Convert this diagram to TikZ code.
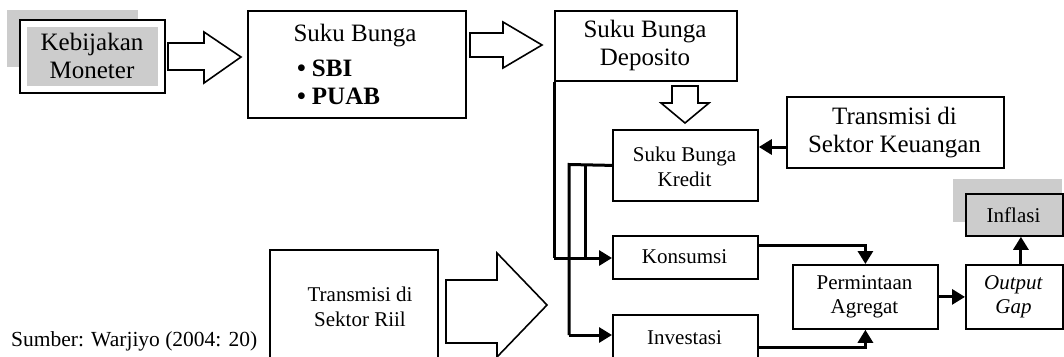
\documentclass[tikz,border=0pt]{standalone}
\usepackage{fontspec}
\setmainfont{Liberation Serif}
\usetikzlibrary{arrows.meta}
\definecolor{shadecol}{RGB}{204,204,204}
\begin{document}
\begin{tikzpicture}[x=1pt,y=-1pt,
  box/.style={draw, line width=1.8pt, inner sep=0pt, anchor=north west, align=center},
  big/.style={font=\fontsize{25}{28}\selectfont, align=center, inner sep=0pt},
  small/.style={font=\fontsize{21}{24.5}\selectfont, align=center, inner sep=0pt},
  conn/.style={line width=3pt, -{Triangle[length=13pt,width=15pt]}},
  wire/.style={line width=3pt},
  hollow/.style={draw, line width=1.6pt, fill=white, line join=miter}]
\useasboundingbox (0,0) rectangle (1064,356);
\clip (0,0) rectangle (1064,356);

% Kebijakan Moneter
\fill[shadecol] (7,10) rectangle (138,67);
\node[box, fill=white, minimum width=145pt, minimum height=73pt] (keb) at (19,19) {};
\fill[shadecol] (27,27) rectangle (158,86);
\node[big] (kebt) at (92,56) {Kebijakan\\Moneter};

% hollow arrow 1
\draw[hollow] (168,43) -- (204,43) -- (204,32) -- (241,57) -- (204,83) -- (204,70) -- (168,70) -- cycle;

% Suku Bunga box
\node[box, minimum width=218pt, minimum height=107pt] (sb) at (247,10) {};
\node[big] (sbt) at (355,36) {Suku Bunga};
\node[big, anchor=west] (sbi) at (297,68) {\textbf{\textbullet}\hspace{6pt}\textbf{SBI}};
\node[big, anchor=west] (puab) at (297,96) {\textbf{\textbullet}\hspace{6pt}\textbf{PUAB}};

% hollow arrow 2
\draw[hollow] (470,33) -- (503,33) -- (503,22) -- (542,45) -- (503,68) -- (503,57) -- (470,57) -- cycle;

% Suku Bunga Deposito
\node[box, minimum width=182pt, minimum height=70pt] (dep) at (554,10) {};
\node[big] (dept) at (645,45) {Suku Bunga\\Deposito};

% hollow down arrow
\draw[hollow] (672,86) -- (698,86) -- (698,103) -- (709,103) -- (685,123) -- (661,103) -- (672,103) -- cycle;

% Suku Bunga Kredit
\node[box, minimum width=145pt, minimum height=71pt] (kre) at (612,129) {};
\node[small] (kret) at (684.5,167) {Suku Bunga\\Kredit};

% Transmisi di Sektor Keuangan
\node[box, minimum width=217pt, minimum height=71pt] (keu) at (786,96) {};
\node[big] (keut) at (894.5,133) {Transmisi di\\Sektor Keuangan};

% Konsumsi
\node[box, minimum width=145pt, minimum height=43pt] (kon) at (612,235) {};
\node[small] (kont) at (684.5,257) {Konsumsi};

% Investasi
\node[box, minimum width=145pt, minimum height=46pt] (inv) at (612,314) {};
\node[small] (invt) at (684.5,338) {Investasi};

% Transmisi di Sektor Riil
\node[box, minimum width=168pt, minimum height=112pt] (riil) at (269,249) {};
\node[small] (riilt) at (360,307) {Transmisi di\\Sektor Riil};

% hollow arrow riil
\draw[hollow] (446,280) -- (497,280) -- (497,253) -- (547,305) -- (497,357) -- (497,343) -- (446,343) -- cycle;

% Permintaan Agregat
\node[box, minimum width=145pt, minimum height=64pt] (perm) at (792,264) {};
\node[small] (permt) at (864.5,297) {Permintaan\\Agregat};

% Output Gap
\node[box, minimum width=97pt, minimum height=64pt] (og) at (965,264) {};
\node[small] (ogt) at (1013.5,297) {\textit{Output}\\\textit{Gap}};

% Inflasi
\fill[shadecol] (953,179) rectangle (1062,222);
\node[box, fill=shadecol, minimum width=97pt, minimum height=42pt] (inf) at (965,193) {};
\node[small] (inft) at (1013.5,215) {Inflasi};

% Sumber
\node[anchor=west, inner sep=0pt, font=\fontsize{21.5}{24}\selectfont] (src) at (11,341) {Sumber: Warjiyo (2004: 20)};

% connectors
\draw[conn] (keu.west |- 0,147) -- (kre.east |- 0,147);
\draw[wire] (kre.west) -- (569,164.5) -- (569,335);
\draw[conn] (569,335) -- (inv.west |- 0,335);
\draw[wire] (585,164.5) -- (585,258);
\draw[wire] (dep.south west) -- (554,258);
\draw[conn] (554,258) -- (kon.west |- 0,258);
\draw[conn] (kon.east |- 0,245) -| (perm.north);
\draw[conn] (inv.east |- 0,347) -| (perm.south);
\draw[conn] (perm.east) -- (og.west);
\draw[conn] ([xshift=6.5pt]og.north) -- ([xshift=6.5pt]inf.south);
\end{tikzpicture}
\end{document}
